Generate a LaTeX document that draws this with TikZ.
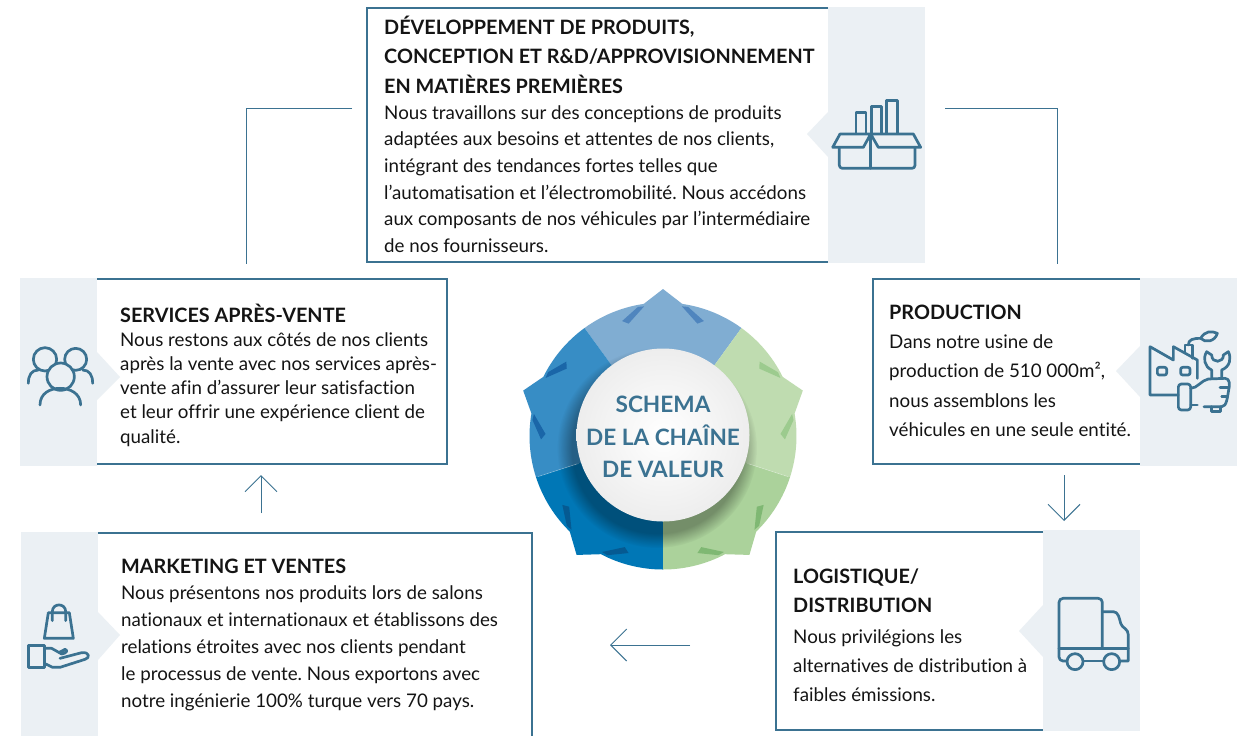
\documentclass[tikz,border=0pt]{standalone}
\usepackage{fontspec}
\setmainfont[Ligatures=NoCommon]{Lato}
\usetikzlibrary{arrows.meta,fadings}
\definecolor{teal}{HTML}{3B7291}
\definecolor{panelbg}{HTML}{EBF0F4}
\definecolor{ink}{HTML}{141414}
\definecolor{segA}{HTML}{80ADD2}\definecolor{segAd}{HTML}{4F85BE}
\definecolor{segB}{HTML}{378DC5}\definecolor{segBd}{HTML}{1A66A8}
\definecolor{segC}{HTML}{0077B6}\definecolor{segCd}{HTML}{055A92}
\definecolor{segD}{HTML}{ABD29B}\definecolor{segDd}{HTML}{7FB873}
\definecolor{segE}{HTML}{BFDCB0}\definecolor{segEd}{HTML}{9CCB8E}
\tikzset{
  frame/.style={draw=teal,line width=2.4pt},
  panel/.style={fill=panelbg},
  link/.style={draw=teal,line width=1pt},
  linkarrow/.style={link,-{Straight Barb[length=16pt,width=32pt,line width=1pt]}},
  icon/.style={draw=teal,line width=2.7pt,line join=round,line cap=round},
  title/.style={anchor=north west,inner sep=0pt,align=left,text=ink,font=\fontsize{19.8}{29.5}\selectfont\bfseries},
  body/.style={anchor=north west,inner sep=0pt,align=left,text=ink,font=\fontsize{18.75}{26.6}\selectfont},
  hubtext/.style={inner sep=0pt,align=center,text=teal,font=\fontsize{22.6}{32.5}\selectfont\bfseries}
}
\newcommand{\wheelseg}[3]{%
  \fill[#2] ({#1-36}:133.5) arc[start angle={#1-36},end angle={#1-8.3},radius=133.5]
     -- (#1:147) -- ({#1+8.3}:133.5) arc[start angle={#1+8.3},end angle={#1+36},radius=133.5] -- (0,0) -- cycle;
  \fill[#3] ({#1+8.3}:131) -- ({#1+17}:117.5) -- ({#1+19.6}:122) -- ({#1+11}:131.5) -- cycle;
  \fill[#3] ({#1-8.3}:131) -- ({#1-17}:117.5) -- ({#1-19.6}:122) -- ({#1-11}:131.5) -- cycle;
}
\begin{document}
\frenchspacing
\begin{tikzpicture}[x=1pt,y=-1pt]
\useasboundingbox (0,0) rectangle (1249,736);
\fill[white] (0,0) rectangle (1249,736);

% panels
\fill[panel] (828,7) rectangle (925,263);
\fill[panel] (828,112) -- (807,134) -- (828,157) -- cycle;
\draw[frame] (828,8) -- (367,8) -- (367,262) -- (828,262);

\fill[panel] (20,278) rectangle (97,466);
\fill[panel] (97,352) -- (120,377) -- (97,400) -- cycle;
\draw[frame] (97,279) -- (447,279) -- (447,464) -- (97,464);

\fill[panel] (1140,278) rectangle (1237,466);
\fill[panel] (1140,346) -- (1116,371) -- (1140,397) -- cycle;
\draw[frame] (1140,279) -- (873,279) -- (873,464) -- (1140,464);

\fill[panel] (1043,530) rectangle (1140,731);
\fill[panel] (1043,605) -- (1019,631) -- (1043,657) -- cycle;
\draw[frame] (1043,532) -- (776,532) -- (776,730) -- (1043,730);

\fill[panel] (21,532) rectangle (98,736);
\fill[panel] (98,612) -- (120,635) -- (98,660) -- cycle;
\draw[frame] (98,533) -- (532,533) -- (532,736);

% text
\node[title] (t1) at (384,15.5) {DÉVELOPPEMENT DE PRODUITS,\\CONCEPTION ET R\&D/APPROVISIONNEMENT\\EN MATIÈRES PREMIÈRES};
\node[body] (b1) at (384,105.3) {Nous travaillons sur des conceptions de produits\\adaptées aux besoins et attentes de nos clients,\\intégrant des tendances fortes telles que\\l’automatisation et l’électromobilité. Nous accédons\\aux composants de nos véhicules par l’intermédiaire\\de nos fournisseurs.};
\node[title] (t2) at (120,303.5) {SERVICES APRÈS-VENTE};
\node[body,font=\fontsize{18.75}{24.2}\selectfont] (b2) at (120,332.3) {Nous restons aux côtés de nos clients\\après la vente avec nos services après-\\vente afin d’assurer leur satisfaction\\et leur offrir une expérience client de\\qualité.};
\node[title] (t3) at (889,304.5) {PRODUCTION};
\node[body,font=\fontsize{18.75}{29.3}\selectfont] (b3) at (889,334.5) {Dans notre usine de\\production de 510 000m²,\\nous assemblons les\\véhicules en une seule entité.};
\node[title] (t4) at (793,568.5) {LOGISTIQUE/\\DISTRIBUTION};
\node[body,font=\fontsize{18.75}{29}\selectfont] (b4) at (793,629.3) {Nous privilégions les\\alternatives de distribution à\\faibles émissions.};
\node[title] (t5) at (121,558.5) {MARKETING ET VENTES};
\node[body,font=\fontsize{18.75}{27}\selectfont] (b5) at (121,585.3) {Nous présentons nos produits lors de salons\\nationaux et internationaux et établissons des\\relations étroites avec nos clients pendant\\le processus de vente. Nous exportons avec\\notre ingénierie 100\% turque vers 70 pays.};

% connectors
\coordinate (c1a) at (352,108); \coordinate (c1b) at (246,108); \coordinate (c1c) at (246,264);
\coordinate (c2a) at (945,108); \coordinate (c2b) at (1057,108); \coordinate (c2c) at (1057,264);
\coordinate (c3a) at (1064,475); \coordinate (c3b) at (1064,521);
\coordinate (c4a) at (690,645); \coordinate (c4b) at (610,645);
\coordinate (c5a) at (261,513); \coordinate (c5b) at (261,475);
\draw[link] (c1a) -- (c1b) -- (c1c);
\draw[link] (c2a) -- (c2b) -- (c2c);
\draw[linkarrow] (c3a) -- (c3b);
\draw[linkarrow] (c4a) -- (c4b);
\draw[linkarrow] (c5a) -- (c5b);

% wheel
\begin{scope}[shift={(663,436)},x=1pt,y=1pt]
  \wheelseg{90}{segA}{segAd}
  \wheelseg{162}{segB}{segBd}
  \wheelseg{18}{segE}{segEd}
  \wheelseg{234}{segC}{segCd}
  \wheelseg{306}{segD}{segDd}
  \fill[black,opacity=.32,path fading=circle with fuzzy edge 15 percent] (-6,-12) circle (100);
  \draw[white,opacity=.35,line width=.6pt] (198:90) -- (198:131);
  \draw[white,opacity=.35,line width=.6pt] (-18:90) -- (-18:131);
  \shade[inner color=white,outer color=white!93!black] (0,1) circle (86.5);
\end{scope}
\node[hubtext] (hub) at (663,437) {SCHEMA\\DE LA CHAÎNE\\DE VALEUR};

% box icon
\begin{scope}[shift={(800,60)},scale=1/3,icon]
  \draw[fill=panelbg] (168,222) rectangle (198,158);
  \draw[fill=panelbg] (214,222) rectangle (245,140);
  \draw[fill=panelbg] (260,222) rectangle (292,122);
  \draw (120,222) -- (212,222) -- (190,262) -- (98,262) -- cycle;
  \draw (212,222) -- (340,222) -- (362,262) -- (235,262) -- cycle;
  \draw[rounded corners=3pt] (118,262) -- (118,325) -- (345,325) -- (345,262);
  \draw (212,222) -- (212,325);
\end{scope}

% factory and wrench icon
\begin{scope}[shift={(1110,310)},scale=1/3,icon]
  \draw (205,255) -- (120,255) -- (120,110) -- (190,150) -- (190,110) -- (262,150) -- (262,205);
  \draw (225,127) -- (225,105) -- (248,105) -- (248,145);
  \draw (235,105) .. controls (235,88) and (250,85) .. (272,85);
  \draw (272,85) .. controls (285,62) and (305,62) .. (322,70) .. controls (315,95) and (285,100) .. (272,85) -- cycle;
  \draw[rounded corners=2pt] (142,172) rectangle (170,195);
  \draw[rounded corners=2pt] (212,172) rectangle (240,195);
  \draw[rounded corners=3pt] (205,222) rectangle (242,300);
  \draw (242,235) .. controls (262,235) and (275,210) .. (295,207) -- (345,205) .. controls (360,205) and (360,225) .. (356,240) .. controls (352,262) and (350,290) .. (335,290) -- (282,290);
  \draw (242,285) -- (262,285);
  \draw (305,290) -- (305,304) -- (332,304) -- (332,290);
  \draw (330,232) -- (356,232);
  \draw (335,260) -- (352,260);
  \draw (305,205) -- (305,180) .. controls (283,170) and (278,145) .. (290,125) -- (305,135) .. controls (305,162) and (342,158) .. (340,135) -- (355,125) .. controls (365,145) and (360,170) .. (335,180) -- (335,205);
\end{scope}

% people icon
\begin{scope}[shift={(10,330)},scale=1/3,icon]
  \draw (105,88) circle (35);
  \draw (197,88) circle (33);
  \draw (55,160) .. controls (55,135) and (65,120) .. (85,120);
  \draw (248,160) .. controls (248,135) and (238,120) .. (218,120);
  \draw[fill=panelbg] (152,140) circle (41);
  \draw (90,225) .. controls (90,190) and (120,175) .. (150,175) .. controls (180,175) and (212,190) .. (212,225);
\end{scope}

% bag and hand icon
\begin{scope}[shift={(10,590)},scale=1/3,icon]
  \draw (103,145) -- (190,145) -- (178,68) -- (115,68) -- cycle;
  \draw (127,92) -- (127,65) .. controls (127,38) and (167,38) .. (167,65) -- (167,92);
  \draw (55,167) rectangle (103,232);
  \draw (103,175) -- (125,175) -- (155,192) .. controls (170,190) and (175,180) .. (165,178) -- (150,186);
  \draw (150,205) -- (215,188) .. controls (240,185) and (240,205) .. (225,208) -- (150,232) -- (128,232) -- (103,220);
\end{scope}

% truck icon
\begin{scope}[shift={(1010,580)},scale=1/3,icon]
  \draw[rounded corners=4pt] (172,243) -- (147,243) -- (147,55) -- (277,55) -- (277,205);
  \draw (147,205) -- (355,205);
  \draw (277,95) -- (310,95) .. controls (325,95) and (328,115) .. (332,130) .. controls (336,145) and (355,145) .. (355,165) -- (355,243) -- (330,243);
  \draw (220,243) -- (280,243);
  \draw (195,245) circle (24);
  \draw (305,245) circle (24);
\end{scope}
\end{tikzpicture}
\end{document}
